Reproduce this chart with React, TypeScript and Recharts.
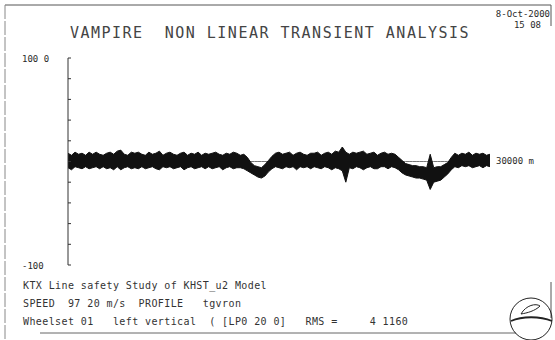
import React from 'react';
import { ComposedChart, Area, XAxis, YAxis } from 'recharts';

// Wheel/rail vertical force trace, sampled every 250 m along the route.
const STEP_M = 250;

// Upper envelope of the trace (kN)
const highs = [
  8, 6, 9, 7, 8, 6, 9, 7, 9, 7,
  6, 8, 9, 7, 10, 11, 7, 6, 9, 8,
  9, 7, 6, 9, 7, 8, 10, 6, 8, 9,
  7, 6, 8, 9, 6, 8, 7, 9, 6, 8,
  7, 8, 9, 7, 6, 8, 7, 9, 8, 6,
  7, 4, -1, -4, -5, -6, -3, 1, 5, 8,
  9, 7, 8, 9, 6, 8, 9, 7, 6, 8,
  8, 9, 6, 8, 9, 7, 10, 9, 14, 9,
  7, 9, 8, 9, 10, 7, 8, 9, 6, 8,
  9, 7, 8, 7, 4, 1, -2, -3, -4, -4,
  -5, -5, -6, 7, -6, -5, -5, -3, -1, 4,
  8, 6, 8, 7, 9, 6, 8, 7, 8, 6,
  7,
];

// Lower envelope of the trace (kN)
const lows = [
  -6, -8, -5, -6, -7, -5, -7, -6, -5, -7,
  -5, -7, -6, -8, -5, -8, -6, -5, -7, -6,
  -7, -5, -7, -6, -5, -7, -8, -5, -6, -5,
  -7, -6, -5, -8, -6, -5, -7, -6, -5, -7,
  -5, -7, -6, -5, -8, -6, -5, -7, -6, -6,
  -7, -9, -11, -13, -15, -16, -14, -10, -7, -5,
  -6, -7, -5, -6, -5, -8, -5, -6, -5, -7,
  -5, -6, -7, -5, -6, -8, -6, -7, -9, -20,
  -6, -7, -5, -6, -8, -6, -5, -7, -7, -5,
  -5, -7, -5, -6, -8, -11, -13, -14, -15, -16,
  -16, -17, -18, -27, -20, -19, -18, -15, -12, -8,
  -5, -6, -4, -5, -4, -6, -5, -4, -6, -4,
  -5,
];

const distance = highs.map((_, i) => i * STEP_M);
const yTicks = [-100, -80, -60, -40, -20, 0, 20, 40, 60, 80, 100];
const yTickLabels: Record<string, string> = { '100': '100 0', '-100': '-100' };

const title = 'VAMPIRE  NON LINEAR TRANSIENT ANALYSIS';
const runDate = '8-Oct-2000';
const runTime = '15 08';
const endLabel = `${distance[distance.length - 1]} m`;
const footLines = [
  'KTX Line safety Study of KHST_u2 Model',
  'SPEED  97 20 m/s  PROFILE   tgvron',
  'Wheelset 01   left vertical  ( [LP0 20 0]   RMS =     4 1160',
];

// zero: datum line drawn under the trace band
const data = distance.map((d, i) => ({ d, band: [lows[i], highs[i]], zero: 0 }));

const MONO = '"DejaVu Sans Mono", "Liberation Mono", monospace';
const INK = '#2a2a2a';

const YTick = (props: any) => {
  const label = yTickLabels[String(props.payload?.value)];
  if (!label) return <g />;
  return (
    <text x={22} y={props.y + 4} fontFamily={MONO} fontSize={9} fill={INK} textAnchor="start">
      {label}
    </text>
  );
};

const pre = { whiteSpace: 'pre' as const };

export default function App() {
  return (
    <div style={{ position: 'absolute', left: 0, top: 0, width: 555, height: 340, background: '#fff' }}>
      <ComposedChart
        width={555}
        height={340}
        data={data}
        margin={{ top: 58, right: 65, bottom: 75, left: 68 }}
      >
        <XAxis dataKey="d" type="number" domain={[0, 30000]} hide />
        <YAxis
          type="number"
          domain={[-100, 100]}
          ticks={yTicks}
          mirror
          tickSize={3}
          tickLine={{ stroke: '#333' }}
          axisLine={{ stroke: '#333' }}
          tick={<YTick />}
          interval={0}
        />
        <Area
          type="linear"
          dataKey="zero"
          stroke="#777"
          strokeWidth={1}
          fill="none"
          dot={false}
          activeDot={false}
          isAnimationActive={false}
        />
        <Area
          type="linear"
          dataKey="band"
          stroke="#111"
          strokeWidth={1}
          fill="#111"
          fillOpacity={1}
          dot={false}
          activeDot={false}
          isAnimationActive={false}
        />
      </ComposedChart>
      <svg
        width={555}
        height={340}
        style={{ position: 'absolute', left: 0, top: 0, pointerEvents: 'none' }}
      >
        {/* sheet border */}
        <line x1={5} y1={5} x2={551} y2={5} stroke="#555" strokeWidth={1} />
        <line x1={5} y1={5} x2={5} y2={340} stroke="#888" strokeWidth={1} strokeDasharray="14 2" />
        <line x1={551} y1={5} x2={551} y2={26} stroke="#555" strokeWidth={1} />
        <line x1={551} y1={282} x2={551} y2={318} stroke="#555" strokeWidth={1} />
        <line x1={40} y1={333} x2={516} y2={333} stroke="#666" strokeWidth={1} />

        <text x={270} y={38} fontFamily={MONO} fontSize={15} letterSpacing={1.5} fill="#444" textAnchor="middle" style={pre}>
          {title}
        </text>
        <text x={550} y={17} fontFamily={MONO} fontSize={9} fill={INK} textAnchor="end">
          {runDate}
        </text>
        <text x={541} y={28} fontFamily={MONO} fontSize={9} fill={INK} textAnchor="end">
          {runTime}
        </text>
        <text x={496} y={164} fontFamily={MONO} fontSize={9} fill={INK} textAnchor="start">
          {endLabel}
        </text>
        {footLines.map((line, i) => (
          <text
            key={i}
            x={23}
            y={289 + i * 18}
            fontFamily={MONO}
            fontSize={10}
            letterSpacing={0.4}
            fill="#333"
            style={pre}
          >
            {line}
          </text>
        ))}

        {/* plotter logo */}
        <g fill="none" stroke="#222">
          <circle cx={531} cy={319} r={21} strokeWidth={1} />
          <path d="M511 321 C 522 316, 540 316, 552 321" strokeWidth={1.8} />
          <path d="M521 314 C 526 305, 536 303, 540 306 C 535 311, 527 313, 521 314 Z" strokeWidth={1} />
        </g>
      </svg>
    </div>
  );
}
